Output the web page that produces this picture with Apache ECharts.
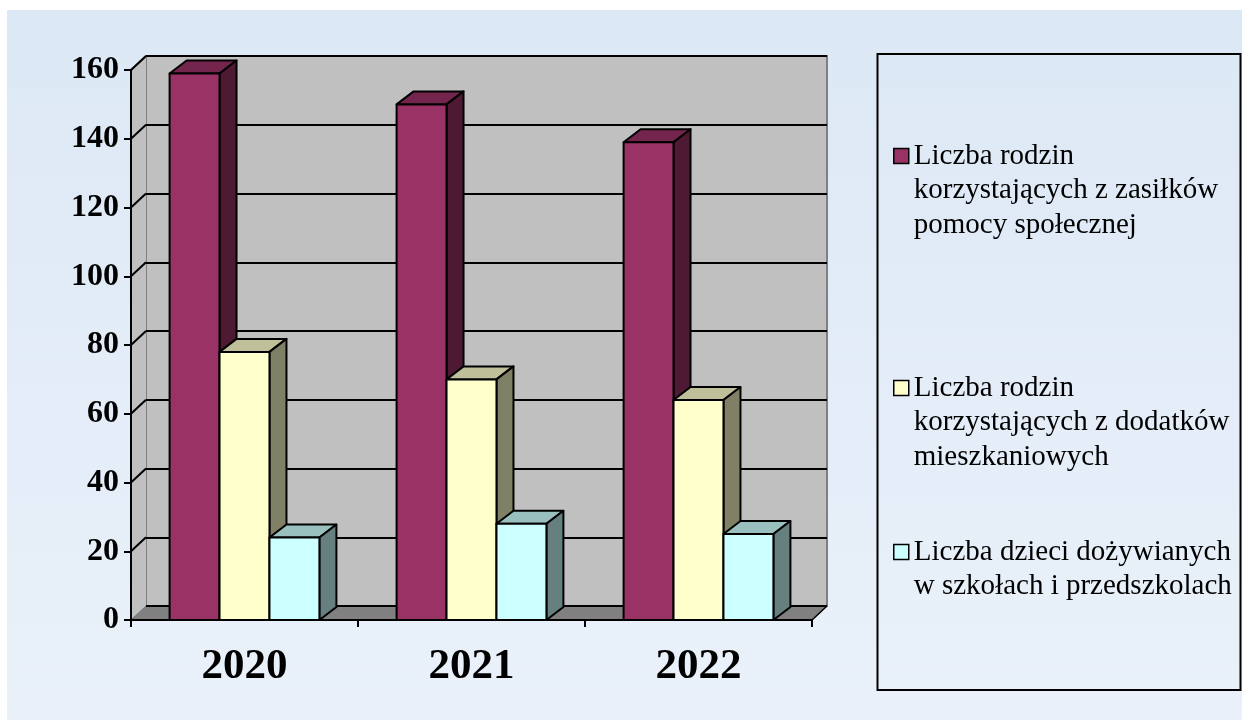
<!DOCTYPE html>
<html>
<head>
<meta charset="utf-8">
<script src="https://cdn.jsdelivr.net/npm/echarts@6/dist/echarts.min.js"></script>
<style>
html,body{margin:0;padding:0;background:#fff;}
#chart{width:1242px;height:720px;}
</style>
</head>
<body>
<div id="chart"></div>
<script>
// ---- data ----
const categories = ['2020', '2021', '2022'];
const seriesNames = [
  'Liczba rodzin korzystających z zasiłków pomocy społecznej',
  'Liczba rodzin korzystających z dodatków mieszkaniowych',
  'Liczba dzieci dożywianych w szkołach i przedszkolach'
];
const legendLines = [
  ['Liczba rodzin', 'korzystających z zasiłków', 'pomocy społecznej'],
  ['Liczba rodzin', 'korzystających z dodatków', 'mieszkaniowych'],
  ['Liczba dzieci dożywianych', 'w szkołach i przedszkolach']
];
const zasilki = [159, 150, 139];
const dodatki = [78, 70, 64];
const dozywianie = [24, 28, 25];
const yTicks = [0, 20, 40, 60, 80, 100, 120, 140, 160];

// ---- style ----
const FONT = "'Liberation Serif', 'Times New Roman', serif";
const faces = [
  { front: '#993366', top: '#73254d', side: '#4d1933' },
  { front: '#ffffcc', top: '#bfbf99', side: '#808066' },
  { front: '#ccffff', top: '#99bfbf', side: '#668080' }
];
const BAR_FRAC = 0.22;
const BDX = 17, BDY = -13;   // bar depth offset
const WDX = 15, WDY = -14;   // wall depth offset

const chart = echarts.init(document.getElementById('chart'), null, { renderer: 'canvas' });

function barRenderer(si) {
  return function (params, api) {
    const idx = api.value(0), val = api.value(1);
    const base = api.coord([idx, 0]);
    const top = api.coord([idx, val]);
    const band = api.size([1, 0])[0];
    const bw = band * BAR_FRAC;
    const x0 = base[0] + (si - 1.5) * bw, x1 = x0 + bw;
    const y0 = base[1], y1 = top[1];
    const st = { stroke: '#000', lineWidth: 2, lineJoin: 'round' };
    const f = faces[si];
    return {
      type: 'group',
      children: [
        { type: 'polygon', shape: { points: [[x0, y1], [x1, y1], [x1 + BDX, y1 + BDY], [x0 + BDX, y1 + BDY]] },
          style: Object.assign({ fill: f.top }, st) },
        { type: 'polygon', shape: { points: [[x1, y1], [x1 + BDX, y1 + BDY], [x1 + BDX, y0 + BDY], [x1, y0]] },
          style: Object.assign({ fill: f.side }, st) },
        { type: 'rect', shape: { x: x0, y: y1, width: bw, height: y0 - y1 },
          style: Object.assign({ fill: f.front }, st) }
      ]
    };
  };
}

function wallRenderer(params, api) {
  const bl = api.coord([0, 0]);
  const tl = api.coord([0, 160]);
  const band = api.size([1, 0])[0];
  const xr = bl[0] + band * categories.length;
  const x0 = bl[0] - band / 2;
  const xR = xr - band / 2;
  return {
    type: 'group',
    children: [
      { type: 'polygon', shape: { points: [[x0, tl[1]], [x0 + WDX, tl[1] + WDY], [x0 + WDX, bl[1] + WDY], [x0, bl[1]]] },
        style: { fill: '#c0c0c0', stroke: null } },
      { type: 'line', shape: { x1: x0, y1: tl[1], x2: x0 + WDX, y2: tl[1] + WDY },
        style: { stroke: '#808080', lineWidth: 2 } },
      { type: 'polygon', shape: { points: [[x0, bl[1]], [xR, bl[1]], [xR + WDX, bl[1] + WDY], [x0 + WDX, bl[1] + WDY]] },
        style: { fill: '#808080', stroke: '#6f6f6f', lineWidth: 1 } },
      { type: 'line', shape: { x1: xR, y1: bl[1], x2: xR + WDX, y2: bl[1] + WDY },
        style: { stroke: '#000', lineWidth: 1.5 } }
    ]
  };
}

function tickRenderer(params, api) {
  const v = api.value(0);
  const p = api.coord([0, v]);
  const band = api.size([1, 0])[0];
  const x0 = p[0] - band / 2;
  return {
    type: 'line',
    shape: { x1: x0, y1: p[1], x2: x0 + WDX, y2: p[1] + WDY },
    style: { stroke: '#000', lineWidth: 2 }
  };
}

const LH = 34.5;
function legendFor(i, top) {
  const n = legendLines[i].length;
  const pre = new Array(n - 1).fill('').join('\n') + (n > 1 ? '\n' : '');
  return {
    show: true,
    data: [seriesNames[i]],
    left: 893,
    top: top,
    padding: 0,
    itemWidth: 15,
    itemHeight: 15,
    icon: 'rect',
    itemStyle: { borderColor: '#000', borderWidth: 1.5 },
    selectedMode: false,
    formatter: function () { return pre + legendLines[i].join('\n'); },
    textStyle: { fontFamily: FONT, fontSize: 29, color: '#000', lineHeight: LH }
  };
}

const option = {
  animation: false,
  backgroundColor: '#ffffff',
  graphic: [
    { type: 'rect', z: -10, shape: { x: 7, y: 10, width: 1242 - 7, height: 710 },
      style: { fill: new echarts.graphic.LinearGradient(0, 0, 0, 1, [
        { offset: 0, color: '#dce8f5' }, { offset: 1, color: '#eaf1fa' }]) } },
    { type: 'rect', z: 10, shape: { x: 877.5, y: 54, width: 363, height: 636 },
      style: { fill: null, stroke: '#000', lineWidth: 2 } }
  ],
  legend: [
    legendFor(0, 156 - 2 * LH - LH / 2),
    legendFor(1, 388 - 2 * LH - LH / 2),
    legendFor(2, 552 - LH - LH / 2)
  ],
  grid: [
    { left: 131, right: 1242 - 812, top: 70, bottom: 100, show: false },
    { left: 131 + WDX, right: 1242 - 812 - WDX, top: 70 + WDY, bottom: 100 - WDY, show: true,
      backgroundColor: '#c0c0c0', borderColor: '#808080', borderWidth: 2, z: -5 }
  ],
  xAxis: [
    { type: 'category', gridIndex: 0, data: categories, boundaryGap: true,
      axisLine: { lineStyle: { color: '#000', width: 2 } },
      axisTick: { show: true, length: 7, lineStyle: { color: '#000', width: 2 } },
      axisLabel: { fontFamily: FONT, fontSize: 43, fontWeight: 'bold', color: '#000', margin: 25, lineHeight: 43 },
      splitLine: { show: false } },
    { type: 'category', gridIndex: 1, data: categories, show: false }
  ],
  yAxis: [
    { type: 'value', gridIndex: 0, min: 0, max: 160, interval: 20,
      axisLine: { show: true, lineStyle: { color: '#000', width: 2 } },
      axisTick: { show: true, length: 7, lineStyle: { color: '#000', width: 2 } },
      axisLabel: { fontFamily: FONT, fontSize: 32, fontWeight: 'bold', color: '#000', margin: 12 },
      splitLine: { show: false } },
    { type: 'value', gridIndex: 1, min: 0, max: 160, interval: 20,
      axisLine: { show: false }, axisTick: { show: false }, axisLabel: { show: false },
      splitLine: { show: true, lineStyle: { color: '#000', width: 2 } } }
  ],
  series: [
    { type: 'custom', name: 'walls', xAxisIndex: 0, yAxisIndex: 0, z: -1, silent: true,
      renderItem: wallRenderer, data: [[0]] },
    { type: 'custom', name: 'ticks', xAxisIndex: 0, yAxisIndex: 0, z: 1, silent: true,
      renderItem: tickRenderer, data: yTicks.slice(1).map(v => [v]) },
    { type: 'custom', name: seriesNames[0], xAxisIndex: 0, yAxisIndex: 0, z: 3,
      itemStyle: { color: faces[0].front },
      renderItem: barRenderer(0), data: zasilki.map((v, i) => [i, v]) },
    { type: 'custom', name: seriesNames[1], xAxisIndex: 0, yAxisIndex: 0, z: 4,
      itemStyle: { color: faces[1].front },
      renderItem: barRenderer(1), data: dodatki.map((v, i) => [i, v]) },
    { type: 'custom', name: seriesNames[2], xAxisIndex: 0, yAxisIndex: 0, z: 5,
      itemStyle: { color: faces[2].front },
      renderItem: barRenderer(2), data: dozywianie.map((v, i) => [i, v]) }
  ]
};
chart.setOption(option);
</script>
</body>
</html>
